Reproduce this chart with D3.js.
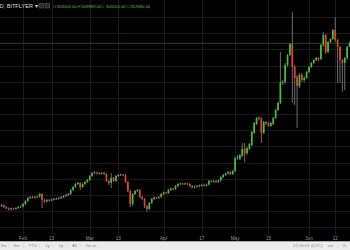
<!DOCTYPE html>
<html><head><meta charset="utf-8">
<script src="https://cdn.jsdelivr.net/npm/d3@7/dist/d3.min.js"></script>
<style>html,body{margin:0;padding:0;background:#000;overflow:hidden}svg{display:block}</style>
</head><body>
<svg id="c" width="350" height="250"></svg>
<script>
// ---- DATA (BTC/JPY, daily, bitFlyer) ----
const firstDay = "2017-01-23";
const open = [106200,107400,105000,103100,101900,103100,102500,103700,105000,
105600,108700,112400,116100,117300,116700,117300,118000,121100,113600,111800,113600,113000,114200,114900,115500,116100,117300,118600,119800,121100,126000,129700,133400,134700,129700,133400,135900,
138400,143300,147100,147700,147100,146400,147100,145800,137200,134700,140900,137200,143300,144600,145200,144600,135900,124800,108700,121100,124800,126000,117300,114900,106200,102500,109900,114900,116700,116100,117300,
121100,122900,122300,126000,127900,127200,131000,133400,134100,133400,134100,133400,131000,129100,130300,131000,131600,132200,131600,132800,137200,136500,137200,135900,137800,142100,144600,146400,148300,145800,
149500,165600,164400,168100,176800,171800,176800,181700,196600,207700,215200,213900,196600,210200,209000,205300,207700,215200,225100,233700,258500,259800,280800,293200,306800,278300,265900,254800,268400,262200,264700,
272100,278300,283300,287000,289500,288200,305600,318000,296900,309300,313000,324100,311800,303100,287000,283300,289500,303105];
const high = [108700,108000,106200,104300,104300,103700,105000,106200,106800,
109900,113600,117300,118600,118600,118600,119200,122300,122300,114900,114900,114900,115500,116100,116700,117300,118600,119800,121100,122300,127200,131000,134700,135900,135900,134700,137200,139600,
144600,148300,149500,148900,148300,148300,148300,147100,138400,147100,142100,144600,145800,146400,145800,145800,137200,126000,122300,126000,127200,127200,118600,116100,107400,111100,116100,118000,117300,118600,122300,
124100,123500,127200,129100,128500,132200,134700,135300,134700,135300,134700,134700,132200,131600,132200,132800,133400,133400,134100,138400,138400,138400,138400,139000,143300,145800,147700,149500,149500,150800,
166900,169300,170600,184200,184200,179300,184200,199100,210200,216400,217600,216400,211500,211500,210200,210200,216400,226300,235000,296900,262200,283300,294400,308000,346400,280800,268400,270900,270900,267200,273400,
279600,284500,288200,290700,290700,306800,321700,319200,310500,314200,325400,340200,313000,304300,288200,290700,304300,309999];
const low = [105000,103700,102500,100600,100600,101200,101900,102500,103700,
104300,107400,111100,114900,115500,115500,116100,116700,103700,109900,110500,111800,111800,113000,113600,114200,114900,116100,117300,118600,119800,124800,128500,132200,126000,128500,132200,134700,
137200,142100,145800,145200,144600,145200,144600,135900,132200,128500,135900,135900,142100,143300,143300,134700,123500,105000,106200,119800,123500,116100,113600,103700,98800,101200,108700,113600,114900,114900,116100,
119800,121100,121100,124800,126000,126000,129700,132200,132200,132200,132200,129700,127900,127900,129100,129700,130300,130300,130300,131600,135300,135300,134700,134700,136500,140900,143300,145200,144600,144600,
148300,163200,163200,166900,160700,169300,175500,180500,195400,206500,212700,184200,195400,206500,204000,204000,206500,213900,223800,232500,256000,257300,278300,292000,233700,231300,202800,252300,259800,259800,263500,
270900,277100,282000,285800,285800,287000,303100,294400,295700,308000,311800,309300,258500,258500,247400,249800,287000,303105];
const close = [107400,105000,103100,101900,103100,102500,103700,105000,105600,
108700,112400,116100,117300,116700,117300,118000,121100,113600,111800,113600,113000,114200,114900,115500,116100,117300,118600,119800,121100,126000,129700,133400,134700,129700,133400,135900,138400,
143300,147100,147700,147100,146400,147100,145800,137200,134700,140900,137200,143300,144600,145200,144600,135900,124800,108700,121100,124800,126000,117300,114900,106200,102500,109900,114900,116700,116100,117300,121100,
122900,122300,126000,127900,127200,131000,133400,134100,133400,134100,133400,131000,129100,130300,131000,131600,132200,131600,132800,137200,136500,137200,135900,137800,142100,144600,146400,148300,145800,149500,
165600,166900,169300,176800,170600,178000,183000,197800,209000,215200,213900,196600,210200,208400,205300,209000,215200,225100,233700,259800,259800,280800,293200,306800,278300,264700,254800,268400,262200,264700,272100,
278300,283300,287000,289500,287600,305600,318000,296900,309300,313000,324100,311800,303100,287000,283300,289500,303100,307680];

const tickDates  = ["2017-02-01","2017-02-13","2017-03-01","2017-03-13","2017-04-01","2017-04-17","2017-05-01","2017-05-15","2017-06-01","2017-06-12"];
const tickLabels = ["Feb","13","Mar","13","Apr","17","May","15","Jun","12"];
const priceGrid  = [80000,100000,120000,140000,160000,180000,200000,220000,240000,260000,280000,300000,320000,340000];
const headerName = "D, BITFLYER";
const ohlcLabels = ["O","H","L","C"];
const rangeButtons = ["3m","6m","YTD","1y","5y","All","Go to..."];
const statusItems = ["15:16:01 (UTC)","ext","%"];

// ---- CHART ----
const W = 350, H = 250, plotBottom = 236, toolbarTop = 241.5;
const parse = d3.utcParse("%Y-%m-%d");
const start = parse(firstDay);
const dates = open.map((_, i) => d3.utcDay.offset(start, i));
const data = dates.map((d, i) => ({d, o: open[i], h: high[i], l: low[i], c: close[i]}));

const x = d3.scaleUtc().domain([parse("2017-02-01"), parse("2017-06-01")]).range([23, 309]);
const y = d3.scaleLinear().domain([60000, 360000]).range([243.3, 1.05]);
const step = x(d3.utcDay.offset(start, 1)) - x(start);
const bw = step * 0.72;

const svg = d3.select("#c");
svg.append("rect").attr("width", W).attr("height", H).attr("fill", "#000");

const grid = svg.append("g").attr("stroke", "#1b1b1b").attr("stroke-width", 1);
grid.selectAll(".hg").data(priceGrid).join("line")
  .attr("x1", 0).attr("x2", W)
  .attr("y1", d => Math.round(y(d)) + 0.5).attr("y2", d => Math.round(y(d)) + 0.5);
grid.selectAll(".vg").data(tickDates.map(parse)).join("line")
  .attr("y1", 0).attr("y2", plotBottom)
  .attr("x1", d => Math.round(x(d)) + 0.5).attr("x2", d => Math.round(x(d)) + 0.5);

// last price line
const last = data[data.length - 1];
svg.append("line").attr("x1", 0).attr("x2", W)
  .attr("y1", y(last.c)).attr("y2", y(last.c))
  .attr("stroke", "#1f4a1f").attr("stroke-width", 1);

const up = "#4cb944", down = "#e0452e";
const cg = svg.append("g");
cg.selectAll("line.w").data(data).join("line").attr("class", "w")
  .attr("x1", d => x(d.d)).attr("x2", d => x(d.d))
  .attr("y1", d => y(d.h)).attr("y2", d => y(d.l))
  .attr("stroke", "#7a7a7a").attr("stroke-width", 0.9);
cg.selectAll("rect.b").data(data).join("rect").attr("class", "b")
  .attr("x", d => x(d.d) - bw / 2).attr("width", bw)
  .attr("y", d => y(Math.max(d.o, d.c)))
  .attr("height", d => Math.max(0.8, Math.abs(y(d.o) - y(d.c))))
  .attr("fill", d => d.c >= d.o ? up : down);

// x-axis labels
const xa = svg.append("g").attr("font-family", "Liberation Sans, Arial, sans-serif")
  .attr("font-size", 4.6).attr("fill", "#9a9a9a").attr("text-anchor", "middle");
xa.selectAll("text").data(tickDates).join("text")
  .attr("x", d => x(parse(d))).attr("y", 240.3)
  .text((d, i) => tickLabels[i]);

// header
const hd = svg.append("g").attr("font-family", "Liberation Sans, Arial, sans-serif");
hd.append("text").attr("x", -0.5).attr("y", 8).attr("font-size", 5.6).attr("fill", "#d8d8d8")
  .text(headerName + " \u25BE");
[39, 45].forEach(px => hd.append("rect").attr("x", px).attr("y", 3.5).attr("width", 4.5).attr("height", 4.5)
  .attr("fill", "#2a2a2a").attr("stroke", "#5a5a5a").attr("stroke-width", 0.6));
const ohlcVals = [last.o, last.h, last.l, last.c];
const lx = [53, 77.5, 102, 126.5];
ohlcLabels.forEach((lab, i) => {
  hd.append("text").attr("x", lx[i]).attr("y", 7.8).attr("font-size", 4.2).attr("fill", "#8a8a8a").text(lab);
  hd.append("text").attr("x", lx[i] + 3.8).attr("y", 7.8).attr("font-size", 4.2).attr("fill", "#5fc24a")
    .text(d3.format(".2f")(ohlcVals[i]));
});

// bottom toolbar
svg.append("rect").attr("x", 0).attr("y", toolbarTop).attr("width", W).attr("height", H - toolbarTop).attr("fill", "#ececec");
svg.append("line").attr("x1", 0).attr("x2", W).attr("y1", toolbarTop).attr("y2", toolbarTop).attr("stroke", "#cfcfcf").attr("stroke-width", 0.6);
const tb = svg.append("g").attr("font-family", "Liberation Sans, Arial, sans-serif").attr("font-size", 4.3).attr("fill", "#8d8d8d");
const bx = [0.5, 13.5, 28.5, 45, 58.5, 72, 85.5];
rangeButtons.forEach((t, i) => tb.append("text").attr("x", bx[i]).attr("y", 247.3).text(t));
[9, 23.5, 39.5, 53, 66.5, 80].forEach(px => tb.append("line").attr("x1", px).attr("x2", px).attr("y1", 243.5).attr("y2", 248.5).attr("stroke", "#d4d4d4").attr("stroke-width", 0.5));
const sx = [293, 327.5, 342.5];
statusItems.forEach((t, i) => tb.append("text").attr("x", sx[i]).attr("y", 247.3).text(t));
[322, 338].forEach(px => tb.append("line").attr("x1", px).attr("x2", px).attr("y1", 243.5).attr("y2", 248.5).attr("stroke", "#d4d4d4").attr("stroke-width", 0.5));
</script>
</body></html>
